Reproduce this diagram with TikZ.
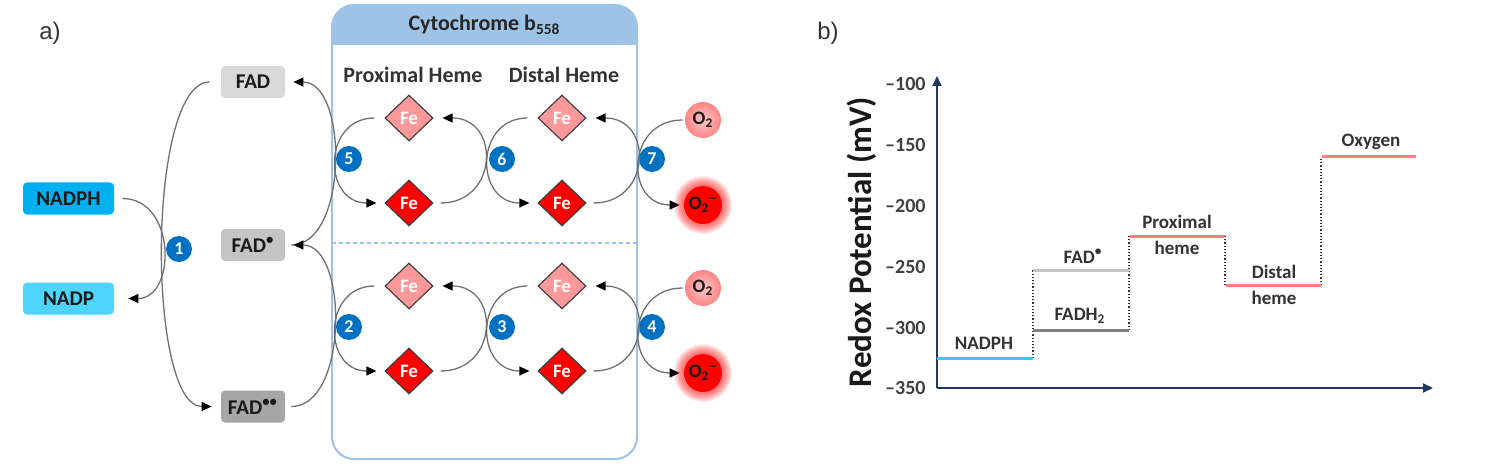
\documentclass[tikz,border=0pt]{standalone}
\usepackage{fontspec}
\setmainfont{Carlito}
\newfontfamily\panelfont{Liberation Sans}
\usetikzlibrary{calc,arrows.meta,shapes.geometric}
\definecolor{nadphblue}{HTML}{00B0F0}
\definecolor{nadpblue}{HTML}{4DD4FF}
\definecolor{fadgray}{HTML}{D9D9D9}
\definecolor{fadrgray}{HTML}{C4C4C4}
\definecolor{fadrrgray}{HTML}{A6A6A6}
\definecolor{cytblue}{HTML}{9DC3E6}
\definecolor{stepblue}{HTML}{0070C0}
\definecolor{feox}{HTML}{FF9999}
\definecolor{fered}{HTML}{FF0000}
\definecolor{flowgray}{HTML}{707070}
\definecolor{axisblue}{HTML}{203864}
\definecolor{hemepink}{HTML}{FF7C80}
\definecolor{nadphline}{HTML}{33CCFF}
\tikzset{
  molbox/.style={rounded corners=2pt, inner sep=0pt, minimum height=16pt, text=black!90,
    font=\bfseries\fontsize{10.5}{12}\selectfont},
  fadbox/.style={molbox, minimum width=32pt},
  nadbox/.style={molbox, minimum width=45.5pt},
  hemehead/.style={font=\bfseries\fontsize{11}{12}\selectfont, text=black!80},
  fe/.style={diamond, draw=black!75, line width=0.6pt, inner sep=0pt, minimum width=24pt,
    minimum height=23pt, text=white, font=\bfseries\fontsize{9.5}{10}\selectfont},
  feoxbox/.style={fe, fill=feox},
  feredbox/.style={fe, fill=fered},
  stepnum/.style={circle, fill=stepblue, text=white, inner sep=0pt, minimum size=13pt,
    font=\bfseries\fontsize{9}{9}\selectfont},
  oxy/.style={circle, inner sep=0pt, text=black!90, font=\bfseries\fontsize{9.5}{10}\selectfont},
  flow/.style={draw=flowgray, line width=0.65pt, -{Triangle[length=5pt,width=4.5pt,color=black]}},
  axis/.style={draw=axisblue, line width=1pt, -{Triangle[length=5pt,width=4.5pt]}},
  level/.style={line width=1.5pt},
  riser/.style={densely dotted, line width=0.6pt, draw=black!80},
  levlbl/.style={font=\bfseries\fontsize{9.5}{10}\selectfont, text=black!80, inner sep=0pt},
  ticklbl/.style={anchor=east, inner sep=0pt, font=\bfseries\fontsize{10}{10}\selectfont, text=black!75},
  panel/.style={font=\panelfont\fontsize{12}{12}\selectfont, text=black!80},
}
\begin{document}
\begin{tikzpicture}[x=0.5pt, y=-0.5pt]
  \useasboundingbox (0,0) rectangle (1500,465);
  \node[panel] (pa) at (50,33) {a)};
  \node[panel] (pb) at (828,33) {b)};

  % cytochrome frame
  \begin{scope}
    \clip[rounded corners=11pt] (332,5) rectangle (637,459);
    \fill[cytblue] (332,5) rectangle (637,45);
  \end{scope}
  \draw[cytblue, line width=1pt, rounded corners=11pt] (332,5) rectangle (637,459);
  \draw[cytblue, line width=0.6pt, dash pattern=on 2pt off 1.5pt] (332,243) -- (637,243);
  \node[hemehead, text=black!85] (cyt) at (484.5,25) {Cytochrome b\textsubscript{558}};
  \node[hemehead] (proxhead) at (413,75) {Proximal Heme};
  \node[hemehead] (disthead) at (564,75) {Distal Heme};

  % electron donors
  \node[nadbox, fill=nadphblue] (nadph) at (68.5,198.5) {NADPH};
  \node[nadbox, fill=nadpblue] (nadp) at (68.5,298.5) {NADP};
  \node[fadbox, fill=fadgray] (fad) at (253,82) {FAD};
  \node[fadbox, fill=fadrgray] (fadr) at (253,245) {FAD\textsuperscript{\textbullet}};
  \node[fadbox, fill=fadrrgray] (fadrr) at (253,406.5) {FAD\textsuperscript{\textbullet\textbullet}};
  \node[stepnum] (s1) at (179,249) {1};

  \draw[flow] ($(nadph.east)+(8,0)$) .. controls +(54,0) and +(48,0) .. ($(nadp.east)+(14,0)$);
  \draw[flow] ($(fad.west)+(-11,0)$) .. controls +(-63,0) and +(-65,0) .. ($(fadrr.west)+(-9,0)$);
  \draw[flow] ($(fadr.east)+(6,0)$) .. controls +(57,0) and +(55,0) .. ($(fad.east)+(8,0)$);
  \draw[flow] ($(fadrr.east)+(6,0)$) .. controls +(57,0) and +(55,0) .. ($(fadr.east)+(8,0)$);

  % heme rows
  \foreach \r/\dy/\na/\nb/\nc in {t/0/5/6/7, b/168/2/3/4}{
    \node[feoxbox] (pox\r) at (409,118+\dy) {Fe};
    \node[feredbox] (pred\r) at (409,203+\dy) {Fe};
    \node[feoxbox] (dox\r) at (562,118+\dy) {Fe};
    \node[feredbox] (dred\r) at (562,203+\dy) {Fe};
    \node[oxy, minimum size=18pt, shading=radial, inner color=red!22, outer color=red!48] (o2\r) at (703,120+\dy) {O\textsubscript{2}};
    \coordinate (glow\r) at (703,205+\dy);
    \foreach \g in {10.5,11,...,14.5}
      \fill[fered, opacity=0.08] (glow\r) circle[radius=\g pt];
    \node[oxy, minimum size=19pt, fill=fered] (sup\r) at (glow\r) {O\textsubscript{2}\textsuperscript{--}};
    \node[stepnum] (sa\r) at (349,159+\dy) {\na};
    \node[stepnum] (sb\r) at (502,159+\dy) {\nb};
    \node[stepnum] (sc\r) at (652,159+\dy) {\nc};
    \draw[flow] ($(pox\r.west)+(-10,0)$) .. controls +(-52,0) and +(-54,0) .. ($(pred\r.west)+(-8,0)$);
    \draw[flow] ($(pred\r.east)+(7,0)$) .. controls +(58,0) and +(58,0) .. ($(pox\r.east)+(9,0)$);
    \draw[flow] ($(dox\r.west)+(-10,0)$) .. controls +(-53,0) and +(-55,0) .. ($(dred\r.west)+(-8,0)$);
    \draw[flow] ($(dred\r.east)+(7,0)$) .. controls +(58,0) and +(58,0) .. ($(dox\r.east)+(9,0)$);
    \draw[flow] ($(o2\r.west)+(-2,0)$) .. controls +(-57,0) and +(-55,0) .. ($(sup\r.west)+(-4,0)$);
  }

  % redox ladder
  \coordinate (orig) at (937,388);
  \coordinate (ytop) at (937,76);
  \coordinate (xend) at (1433,388);
  \draw[axis] (orig) -- (ytop);
  \draw[axis] (orig) -- (xend);
  \foreach \v/\y in {100/84, 150/145, 200/206, 250/267, 300/328, 350/388}
    \node[ticklbl] (tick\v) at (926,\y) {--\v};
  \node[rotate=90, font=\bfseries\fontsize{16.5}{18}\selectfont, text=black!90] (ytitle) at (862,242) {Redox Potential (mV)};

  \draw[riser] (1033,358) -- (1033,270);
  \draw[riser] (1129,330) -- (1129,236);
  \draw[riser] (1225,236) -- (1225,285);
  \draw[riser] (1321,285) -- (1321,157);
  \draw[level, nadphline] (937,358) -- (1033,358);
  \draw[level, fadrgray] (1033,270) -- (1129,270);
  \draw[level, black!50] (1033,330) -- (1129,330);
  \draw[level, hemepink] (1130,236) -- (1225,236);
  \draw[level, hemepink] (1226,285) -- (1321,285);
  \draw[level, hemepink] (1322,157) -- (1416,157);

  \node[levlbl] (lnadph) at (984,343) {NADPH};
  \node[levlbl] (lfadr) at (1083,256) {FAD\textsuperscript{\textbullet}};
  \node[levlbl] (lfadh) at (1080,316) {FADH\textsubscript{2}};
  \node[levlbl] (lprox) at (1177,222) {Proximal};
  \node[levlbl] (lproxh) at (1177,248) {heme};
  \node[levlbl] (ldist) at (1274,272) {Distal};
  \node[levlbl] (ldisth) at (1274,298) {heme};
  \node[levlbl] (loxy) at (1371,142) {Oxygen};
\end{tikzpicture}
\end{document}
